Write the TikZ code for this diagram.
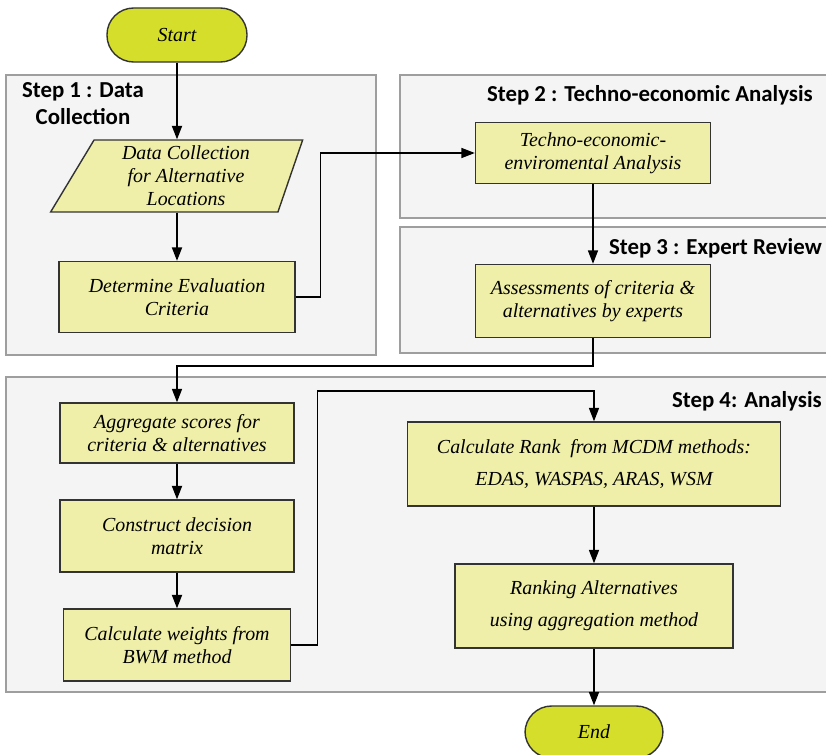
\documentclass[tikz,border=0pt]{standalone}
\usepackage{fontspec}
\setmainfont{Liberation Serif}
\newfontfamily\labelfont{Carlito}
\usetikzlibrary{arrows.meta,shapes.geometric}
\definecolor{boxyellow}{HTML}{EFEFA9}
\definecolor{termgreen}{HTML}{D5DF2B}
\definecolor{panelgrey}{HTML}{F4F4F4}
\definecolor{panelline}{HTML}{9E9E9E}

\begin{document}
\begin{tikzpicture}[x=0.03cm,y=-0.03cm,
  >={Triangle[length=4mm,width=3mm]},
  panel/.style={draw=panelline,fill=panelgrey,line width=1pt},
  process/.style={shape=rectangle,draw=black!80,fill=boxyellow,line width=1.2pt,align=center,inner sep=2pt,font=\itshape\fontsize{17}{19.5}\selectfont},
  terminal/.style={shape=rectangle,rounded corners=0.8cm,draw=black!80,fill=termgreen,line width=1.2pt,font=\itshape\fontsize{17}{20}\selectfont},
  steplabel/.style={inner sep=0pt,align=center,font=\labelfont\bfseries\fontsize{19.5}{23}\selectfont},
  flow/.style={->,line width=1.5pt},
  link/.style={->,line width=1.1pt}]
\useasboundingbox (0,0) rectangle (826,755);

% step panels
\draw [panel] (6,75) rectangle (376,355);
\draw [panel] (400,75) rectangle (830,218);
\draw [panel] (400,227) rectangle (830,353);
\draw [panel] (6,377) rectangle (830,692);

\path (83,104) node (stepone) [steplabel] {Step 1 : Data\\Collection};
\path (813,95) node (steptwo) [steplabel,anchor=east] {Step 2 : Techno-economic Analysis};
\path (822,248) node (stepthree) [steplabel,anchor=east] {Step 3 : Expert Review};
\path (822,401) node (stepfour) [steplabel,anchor=east] {Step 4: Analysis};

% flow nodes
\path (177,35) node (start) [terminal,minimum width=4.2cm,minimum height=1.62cm] {Start};
\path (186,176) node (data) [process,shape=trapezium,trapezium left angle=56,trapezium right angle=111,trapezium stretches body,minimum width=7.56cm,minimum height=2.16cm] {Data Collection\\for Alternative\\Locations};
\path (177,297) node (determ) [process,minimum width=7.08cm,minimum height=2.13cm] {Determine Evaluation\\Criteria};
\path (593,153) node (techno) [process,minimum width=7.05cm,minimum height=1.83cm] {Techno-economic-\\enviromental Analysis};
\path (593,301) node (assess) [process,minimum width=7.05cm,minimum height=2.19cm] {Assessments of criteria \&\\alternatives by experts};
\path (177,433) node (aggr) [process,minimum width=7.02cm,minimum height=1.8cm] {Aggregate scores for\\criteria \& alternatives};
\path (177,536) node (matrix) [process,minimum width=7.02cm,minimum height=2.16cm] {Construct decision\\matrix};
\path (177,645) node (weights) [process,minimum width=6.81cm,minimum height=2.16cm] {Calculate weights from\\BWM method};
\path (594,464) node (rank) [process,minimum width=11.19cm,minimum height=2.52cm,font=\itshape\fontsize{17}{27}\selectfont] {Calculate Rank \ from MCDM methods:\\EDAS, WASPAS, ARAS, WSM};
\path (594,606) node (ranking) [process,minimum width=8.34cm,minimum height=2.52cm,font=\itshape\fontsize{17}{27}\selectfont] {Ranking Alternatives\\using aggregation method};
\path (594,732) node (end) [terminal,minimum width=4.14cm,minimum height=1.56cm] {End};

\coordinate (aggrin) at (177,366);
\coordinate (rankin) at (594,391);

% connectors
\draw [flow] (start) to (start |- data.north);
\draw [flow] (start |- data.south) to (determ);
\draw [link] (determ.east) -- ++(25,0) |- (techno.west);
\draw [link] (techno) to (assess);
\draw [link] (assess.south) |- (aggrin) -- (aggr.north);
\draw [flow] (aggr) to (matrix);
\draw [flow] (matrix) to (weights);
\draw [link] (weights.east) -- ++(26,0) |- (rankin) -- (rank.north);
\draw [link] (rank) to (ranking);
\draw [flow] (ranking) to (end);
\end{tikzpicture}
\end{document}
